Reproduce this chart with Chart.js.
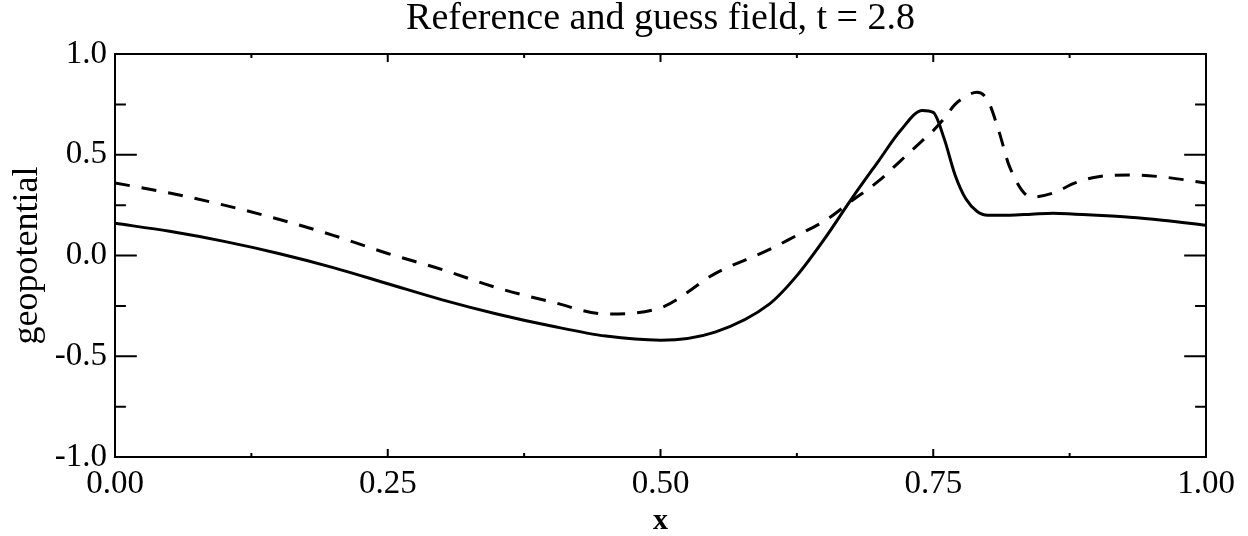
<!DOCTYPE html>
<html>
<head>
<meta charset="utf-8">
<script src="https://cdn.jsdelivr.net/npm/chart.js@4.4.0/dist/chart.umd.min.js"></script>
<style>
  html, body { margin: 0; padding: 0; background: #fff; }
  #wrap { width: 1248px; height: 536px; }
</style>
</head>
<body>
<div id="wrap"><canvas id="chart" width="1248" height="536"></canvas></div>
<script>
const xs = [0, 0.05, 0.1, 0.15, 0.2, 0.25, 0.3, 0.35, 0.4, 0.45, 0.5, 0.55, 0.6, 0.625, 0.65, 0.675,
  0.7, 0.72, 0.74, 0.75, 0.76, 0.77, 0.78, 0.79, 0.8, 0.81, 0.82, 0.84, 0.86, 0.88, 0.9, 0.93, 0.96, 1.0];

const referenceField = [0.16, 0.12, 0.07, 0.01, -0.06, -0.14, -0.22, -0.29, -0.35, -0.40, -0.42, -0.38, -0.24, -0.10, 0.08, 0.28,
  0.47, 0.62, 0.72, 0.71, 0.58, 0.40, 0.28, 0.22, 0.20, 0.20, 0.20, 0.205, 0.21, 0.205, 0.20, 0.19, 0.175, 0.15];

const guessField = [0.36, 0.31, 0.25, 0.18, 0.10, 0.01, -0.07, -0.16, -0.23, -0.29, -0.26, -0.09, 0.03, 0.10, 0.17, 0.27,
  0.37, 0.47, 0.57, 0.62, 0.68, 0.75, 0.79, 0.81, 0.77, 0.62, 0.44, 0.29, 0.31, 0.36, 0.39, 0.40, 0.39, 0.36];

const xMajor = [0, 0.25, 0.5, 0.75, 1.0];
const yMajor = [-1.0, -0.5, 0.0, 0.5, 1.0];

const serif = "'Liberation Serif', 'DejaVu Serif', serif";

function toPoints(vals) {
  return xs.map((x, i) => ({ x: x, y: vals[i] }));
}

// box with inward ticks on all four sides
const boxTicks = {
  id: "boxTicks",
  afterDraw(chart) {
    const c = chart.ctx;
    const a = chart.chartArea;
    const sx = chart.scales.x;
    const sy = chart.scales.y;
    const h = a.bottom - a.top;
    const w = a.right - a.left;
    c.save();
    c.strokeStyle = "#000";
    c.lineWidth = 2;
    c.strokeRect(a.left, a.top, w, h);
    c.beginPath();
    sx.ticks.forEach(t => {
      const px = sx.getPixelForValue(t.value);
      const major = xMajor.some(v => Math.abs(v - t.value) < 1e-6);
      const len = major ? 0.02 * h : 0.01 * h;
      c.moveTo(px, a.bottom); c.lineTo(px, a.bottom - len);
      c.moveTo(px, a.top); c.lineTo(px, a.top + len);
    });
    sy.ticks.forEach(t => {
      const py = sy.getPixelForValue(t.value);
      const major = yMajor.some(v => Math.abs(v - t.value) < 1e-6);
      const len = major ? 0.02 * w : 0.01 * w;
      c.moveTo(a.left, py); c.lineTo(a.left + len, py);
      c.moveTo(a.right, py); c.lineTo(a.right - len, py);
    });
    c.stroke();
    c.restore();
  }
};

new Chart(document.getElementById("chart").getContext("2d"), {
  type: "line",
  data: {
    datasets: [{
      label: "reference",
      data: toPoints(referenceField),
      borderColor: "#000",
      borderWidth: 3,
      pointRadius: 0,
      cubicInterpolationMode: "monotone"
    }, {
      label: "guess",
      data: toPoints(guessField),
      borderColor: "#000",
      borderWidth: 3,
      borderDash: [15, 12],
      pointRadius: 0,
      cubicInterpolationMode: "monotone"
    }]
  },
  options: {
    responsive: false,
    animation: false,
    layout: { padding: { top: 0, right: 42, left: 0, bottom: 0 } },
    plugins: {
      legend: { display: false },
      tooltip: { enabled: false },
      title: { display: false }
    },
    scales: {
      x: {
        type: "linear",
        min: 0,
        max: 1,
        grid: { display: false, drawTicks: false },
        border: { display: false },
        ticks: {
          stepSize: 0.125,
          autoSkip: false,
          maxRotation: 0,
          padding: 8,
          color: "#000",
          font: { family: serif, size: 33 },
          callback: v => xMajor.some(m => Math.abs(m - v) < 1e-6) ? v.toFixed(2) : ""
        },
        title: {
          display: true,
          text: "x",
          color: "#000",
          font: { family: serif, size: 30, weight: "bold", lineHeight: 1.0 },
          padding: { top: 0, bottom: 0 }
        },
        afterFit: s => { s.height = 79; }
      },
      // top axis only carries the chart title, centred over the plot box
      xTop: {
        type: "linear",
        position: "top",
        min: 0,
        max: 1,
        grid: { display: false, drawTicks: false },
        border: { display: false },
        ticks: { display: false },
        title: {
          display: true,
          text: "Reference and guess field, t = 2.8",
          color: "#000",
          font: { family: serif, size: 38, lineHeight: 1.0 },
          padding: { top: 0, bottom: 0 }
        },
        afterFit: s => { s.height = 54; }
      },
      y: {
        min: -1,
        max: 1,
        grid: { display: false, drawTicks: false },
        border: { display: false },
        ticks: {
          stepSize: 0.25,
          autoSkip: false,
          padding: 8,
          color: "#000",
          font: { family: serif, size: 33 },
          callback: v => yMajor.some(m => Math.abs(m - v) < 1e-6) ? v.toFixed(1) : ""
        },
        title: {
          display: true,
          text: "geopotential",
          color: "#000",
          font: { family: serif, size: 36 },
          padding: { top: 6, bottom: 0 }
        },
        afterFit: s => { s.width = 115; }
      }
    }
  },
  plugins: [boxTicks]
});
</script>
</body>
</html>
